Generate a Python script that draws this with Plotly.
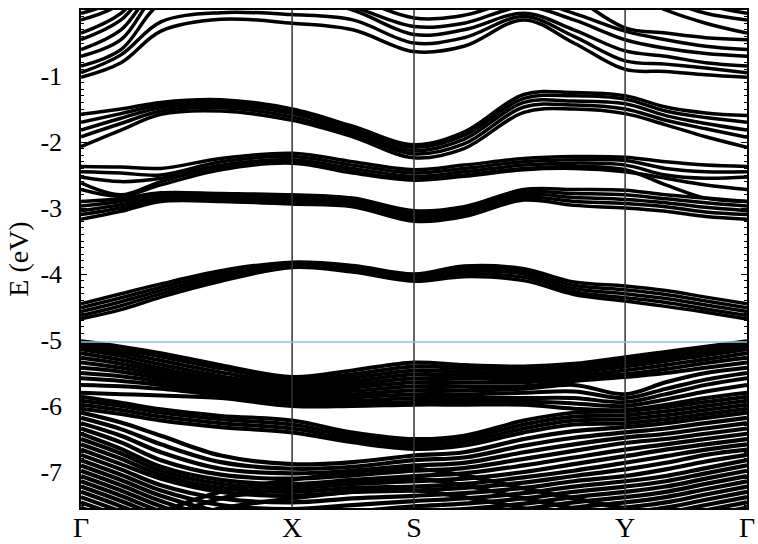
import plotly.graph_objects as go

# ---------------- data ----------------
K_TICKS = [0.0, 0.317, 0.5, 0.817, 1.0]
K_LABELS = ["Γ", "X", "S", "Y", "Γ"]
# sampling points along the path Γ-X-S-Y-Γ
K_GRID = [0.0, 0.060, 0.120, 0.210, 0.317, 0.408, 0.5, 0.575, 0.665, 0.740, 0.817, 0.878, 0.938, 1.0]
E_FERMI = -5.03
Y_TICKS = [-1, -2, -3, -4, -5, -6, -7]
Y_LABELS = ["-1", "-2", "-3", "-4", "-5", "-6", "-7"]

bands_top = [
    [-1.02, -0.80, -0.32, -0.14, -0.20, -0.30, -0.63, -0.55, -0.15, -0.50, -0.90, -0.93, -0.98, -1.02],
    [-0.95, -0.68, -0.18, -0.04, -0.07, -0.15, -0.50, -0.42, -0.10, -0.40, -0.77, -0.82, -0.88, -0.95],
    [-0.85, -0.60, 0.10, 0.30, 0.20, 0.00, -0.37, -0.30, -0.05, -0.30, -0.62, -0.70, -0.80, -0.85],
    [-0.70, -0.45, 0.30, 0.50, 0.30, 0.05, -0.25, -0.20, 0.05, -0.15, -0.45, -0.58, -0.66, -0.70],
    [-0.60, -0.30, 0.40, 0.60, 0.50, 0.20, -0.12, -0.08, 0.15, -0.05, -0.32, -0.45, -0.55, -0.60],
    [-0.45, -0.15, 0.50, 0.70, 0.60, 0.40, 0.30, 0.40, 0.60, 0.20, -0.27, -0.35, -0.42, -0.45],
    [-0.35, -0.05, 0.60, 0.80, 0.70, 0.50, 0.40, 0.50, 0.70, 0.50, 0.30, 0.00, -0.20, -0.35],
    [-0.15, 0.10, 0.80, 1.00, 0.90, 0.60, 0.50, 0.60, 0.80, 0.60, 0.40, 0.15, -0.05, -0.15],
    [-0.05, 0.20, 1.00, 1.20, 1.00, 0.80, 0.60, 0.70, 0.90, 0.70, 0.50, 0.30, 0.08, -0.05],
]

bands_mid = [
    [-1.58, -1.50, -1.40, -1.36, -1.50, -1.76, -2.04, -1.85, -1.28, -1.25, -1.30, -1.47, -1.56, -1.60],
    [-1.70, -1.57, -1.44, -1.40, -1.53, -1.80, -2.08, -1.90, -1.34, -1.30, -1.35, -1.53, -1.63, -1.70],
    [-1.82, -1.64, -1.48, -1.44, -1.57, -1.84, -2.13, -1.96, -1.40, -1.38, -1.42, -1.60, -1.72, -1.82],
    [-1.92, -1.72, -1.53, -1.48, -1.62, -1.88, -2.18, -2.03, -1.47, -1.44, -1.50, -1.67, -1.80, -1.93],
    [-2.07, -1.82, -1.58, -1.53, -1.67, -1.92, -2.24, -2.10, -1.55, -1.50, -1.57, -1.74, -1.92, -2.08],
]

bands_u = [
    [-2.37, -2.38, -2.40, -2.25, -2.17, -2.30, -2.42, -2.35, -2.25, -2.22, -2.23, -2.30, -2.35, -2.37],
    [-2.45, -2.47, -2.50, -2.30, -2.22, -2.35, -2.47, -2.40, -2.30, -2.27, -2.28, -2.40, -2.45, -2.45],
    [-2.53, -2.60, -2.55, -2.35, -2.27, -2.40, -2.52, -2.45, -2.35, -2.32, -2.35, -2.50, -2.55, -2.53],
    [-2.62, -2.80, -2.60, -2.38, -2.30, -2.45, -2.56, -2.50, -2.40, -2.37, -2.42, -2.65, -2.85, -2.90],
    [-2.72, -2.82, -2.65, -2.42, -2.32, -2.47, -2.58, -2.52, -2.42, -2.40, -2.45, -2.55, -2.65, -2.72],
]

bands_w = [
    [-2.90, -2.86, -2.77, -2.78, -2.80, -2.85, -3.04, -2.98, -2.72, -2.72, -2.73, -2.80, -2.85, -2.90],
    [-2.97, -2.90, -2.80, -2.81, -2.83, -2.88, -3.08, -3.02, -2.76, -2.78, -2.80, -2.86, -2.92, -2.97],
    [-3.04, -2.95, -2.84, -2.84, -2.86, -2.91, -3.12, -3.06, -2.80, -2.84, -2.87, -2.92, -2.99, -3.04],
    [-3.10, -3.00, -2.87, -2.87, -2.90, -2.94, -3.16, -3.10, -2.84, -2.90, -2.93, -2.98, -3.06, -3.10],
    [-3.17, -3.05, -2.90, -2.90, -2.94, -2.98, -3.20, -3.13, -2.88, -2.96, -3.00, -3.05, -3.13, -3.17],
]

bands_v = [
    [-4.45, -4.30, -4.15, -3.95, -3.82, -3.87, -4.00, -3.88, -3.92, -4.12, -4.18, -4.25, -4.35, -4.45],
    [-4.51, -4.36, -4.20, -3.99, -3.84, -3.89, -4.03, -3.92, -3.96, -4.17, -4.24, -4.31, -4.41, -4.51],
    [-4.57, -4.42, -4.25, -4.03, -3.86, -3.91, -4.06, -3.96, -4.00, -4.22, -4.30, -4.37, -4.47, -4.57],
    [-4.63, -4.48, -4.30, -4.07, -3.88, -3.94, -4.09, -4.00, -4.05, -4.27, -4.36, -4.43, -4.53, -4.63],
    [-4.68, -4.54, -4.35, -4.11, -3.90, -3.97, -4.11, -4.04, -4.10, -4.31, -4.41, -4.49, -4.58, -4.68],
]

bands_val_upper = [
    [-5.02, -5.10, -5.20, -5.38, -5.56, -5.46, -5.34, -5.38, -5.40, -5.36, -5.26, -5.18, -5.10, -5.02],
    [-5.05, -5.14, -5.25, -5.43, -5.60, -5.52, -5.40, -5.43, -5.44, -5.40, -5.30, -5.22, -5.13, -5.05],
    [-5.09, -5.19, -5.31, -5.49, -5.64, -5.57, -5.46, -5.48, -5.49, -5.45, -5.35, -5.27, -5.18, -5.09],
    [-5.14, -5.24, -5.37, -5.55, -5.68, -5.62, -5.52, -5.53, -5.54, -5.50, -5.40, -5.32, -5.23, -5.14],
    [-5.20, -5.30, -5.43, -5.60, -5.72, -5.67, -5.58, -5.58, -5.59, -5.55, -5.46, -5.38, -5.29, -5.20],
    [-5.27, -5.36, -5.48, -5.64, -5.76, -5.72, -5.64, -5.64, -5.64, -5.58, -5.52, -5.44, -5.35, -5.27],
    [-5.34, -5.42, -5.53, -5.68, -5.80, -5.77, -5.70, -5.70, -5.70, -5.62, -5.56, -5.50, -5.42, -5.34],
    [-5.42, -5.48, -5.58, -5.72, -5.84, -5.82, -5.76, -5.76, -5.74, -5.68, -5.82, -5.64, -5.50, -5.42],
    [-5.50, -5.55, -5.63, -5.76, -5.88, -5.87, -5.82, -5.82, -5.80, -5.78, -5.88, -5.74, -5.60, -5.50],
    [-5.58, -5.62, -5.68, -5.80, -5.92, -5.92, -5.88, -5.88, -5.88, -5.88, -5.94, -5.82, -5.68, -5.58],
    [-5.68, -5.70, -5.74, -5.84, -5.96, -5.96, -5.94, -5.94, -5.93, -5.96, -6.00, -5.90, -5.78, -5.68],
    [-5.80, -5.82, -5.84, -5.88, -6.00, -6.00, -5.98, -5.98, -5.98, -6.04, -6.06, -5.98, -5.88, -5.80],
]

bands_val_gamma = [
    [-5.86, -5.95, -6.05, -6.15, -6.22, -6.40, -6.50, -6.45, -6.22, -6.10, -6.08, -6.02, -5.94, -5.86],
    [-5.92, -6.00, -6.10, -6.20, -6.28, -6.45, -6.55, -6.50, -6.28, -6.16, -6.14, -6.08, -6.00, -5.92],
    [-5.98, -6.06, -6.16, -6.26, -6.34, -6.50, -6.60, -6.55, -6.34, -6.22, -6.20, -6.14, -6.06, -5.98],
    [-6.04, -6.12, -6.22, -6.32, -6.40, -6.55, -6.65, -6.60, -6.40, -6.28, -6.26, -6.20, -6.12, -6.04],
]

bands_val_lower = [
    [-6.10, -6.25, -6.45, -6.75, -6.88, -6.85, -6.75, -6.70, -6.50, -6.38, -6.32, -6.26, -6.18, -6.10],
    [-6.18, -6.35, -6.58, -6.85, -6.95, -6.92, -6.82, -6.78, -6.60, -6.48, -6.40, -6.34, -6.26, -6.18],
    [-6.26, -6.45, -6.70, -6.95, -7.02, -6.98, -6.90, -6.86, -6.70, -6.58, -6.48, -6.42, -6.34, -6.26],
    [-6.34, -6.55, -6.82, -7.04, -7.10, -7.05, -6.98, -6.94, -6.80, -6.68, -6.56, -6.50, -6.42, -6.34],
    [-6.42, -6.65, -6.92, -7.12, -7.18, -7.12, -7.06, -7.02, -6.90, -6.78, -6.66, -6.58, -6.50, -6.42],
    [-6.50, -6.72, -6.98, -7.18, -7.24, -7.18, -7.14, -7.10, -7.00, -6.88, -6.76, -6.66, -6.58, -6.50],
    [-6.58, -6.80, -7.04, -7.24, -7.30, -7.24, -7.22, -7.18, -7.08, -6.98, -6.86, -6.76, -6.66, -6.58],
    [-6.66, -6.88, -7.10, -7.30, -7.36, -7.30, -7.28, -7.24, -7.16, -7.06, -6.96, -6.86, -6.74, -6.66],
    [-6.74, -6.96, -7.20, -7.40, -7.46, -7.40, -7.36, -7.32, -7.24, -7.14, -7.06, -6.96, -6.84, -6.74],
    [-6.82, -7.04, -7.28, -7.50, -7.56, -7.50, -7.44, -7.40, -7.32, -7.22, -7.14, -7.06, -6.94, -6.82],
    [-6.90, -7.12, -7.36, -7.60, -7.66, -7.60, -7.52, -7.48, -7.40, -7.30, -7.22, -7.14, -7.02, -6.90],
    [-6.98, -7.20, -7.44, -7.70, -7.76, -7.70, -7.60, -7.56, -7.48, -7.38, -7.30, -7.22, -7.10, -6.98],
    [-7.06, -7.28, -7.52, -7.80, -7.86, -7.80, -7.70, -7.64, -7.56, -7.46, -7.38, -7.30, -7.18, -7.06],
    [-7.14, -7.36, -7.60, -7.90, -7.96, -7.90, -7.80, -7.72, -7.64, -7.54, -7.46, -7.38, -7.26, -7.14],
    [-7.22, -7.44, -7.68, -8.00, -8.06, -8.00, -7.90, -7.80, -7.72, -7.62, -7.54, -7.46, -7.34, -7.22],
    [-7.30, -7.52, -7.76, -8.10, -8.16, -8.10, -8.00, -7.88, -7.80, -7.70, -7.62, -7.54, -7.42, -7.30],
    [-7.38, -7.60, -7.84, -8.20, -8.26, -8.20, -8.10, -7.96, -7.88, -7.78, -7.70, -7.62, -7.50, -7.38],
    [-7.46, -7.68, -7.92, -8.30, -8.36, -8.30, -8.20, -8.04, -7.96, -7.86, -7.78, -7.70, -7.58, -7.46],
    [-7.54, -7.76, -8.00, -8.40, -8.46, -8.40, -8.30, -8.12, -8.04, -7.94, -7.86, -7.78, -7.66, -7.54],
    [-7.90, -7.80, -7.60, -7.30, -7.12, -7.00, -6.95, -7.05, -7.25, -7.40, -7.55, -7.65, -7.75, -7.90],
    [-8.00, -7.90, -7.70, -7.40, -7.25, -7.15, -7.10, -7.20, -7.40, -7.55, -7.70, -7.80, -7.90, -8.00],
    [-8.10, -8.00, -7.80, -7.55, -7.40, -7.30, -7.28, -7.38, -7.55, -7.70, -7.85, -7.95, -8.05, -8.10],
]

# ---------------- figure ----------------
SERIF = "Liberation Serif, Times New Roman, serif"
fig = go.Figure()

for group, lw in ((bands_top, 3.5), (bands_mid, 3.5), (bands_u, 3.5), (bands_w, 3.5),
                  (bands_v, 3.5), (bands_val_upper, 4), (bands_val_gamma, 4),
                  (bands_val_lower, 4.2)):
    for band in group:
        fig.add_trace(go.Scatter(
            x=K_GRID, y=band, mode="lines",
            line=dict(color="black", width=lw, shape="spline", smoothing=1.0),
            hoverinfo="skip", showlegend=False))

# high-symmetry vertical lines
for k in K_TICKS[1:-1]:
    fig.add_shape(type="line", xref="x", yref="paper", x0=k, x1=k, y0=0, y1=1,
                  line=dict(color="#333333", width=1.5), layer="above")
# Fermi level
fig.add_shape(type="line", xref="paper", yref="y", x0=0, x1=1, y0=E_FERMI, y1=E_FERMI,
              line=dict(color="#8cc4dc", width=1.5), layer="above")

fig.update_layout(
    width=758, height=544,
    margin=dict(l=81, r=11, t=10, b=36, autoexpand=False),
    paper_bgcolor="white", plot_bgcolor="white",
    font=dict(family=SERIF, color="black"),
    xaxis=dict(range=[0, 1], tickvals=K_TICKS, ticktext=K_LABELS, automargin=False,
               tickfont=dict(family=SERIF, size=28, color="black"), ticks="",
               ticklabelstandoff=-6,
               showline=True, mirror=True, linecolor="black", linewidth=1.5,
               showgrid=False, zeroline=False),
    yaxis=dict(range=[-7.545, 0], tickvals=Y_TICKS, ticktext=Y_LABELS, automargin=False,
               tickfont=dict(family=SERIF, size=26, color="black"), ticks="inside", ticklen=6,
               tickcolor="black", ticklabelstandoff=12,
               minor=dict(dtick=0.1, tick0=0, ticks="inside", ticklen=3, tickcolor="black"),
               showline=True, mirror="ticks", linecolor="black", linewidth=1.5,
               showgrid=False, zeroline=False,
               title=dict(text="E (eV)", font=dict(family=SERIF, size=28, color="black"),
                          standoff=4)),
)

fig.write_html("out.html")
